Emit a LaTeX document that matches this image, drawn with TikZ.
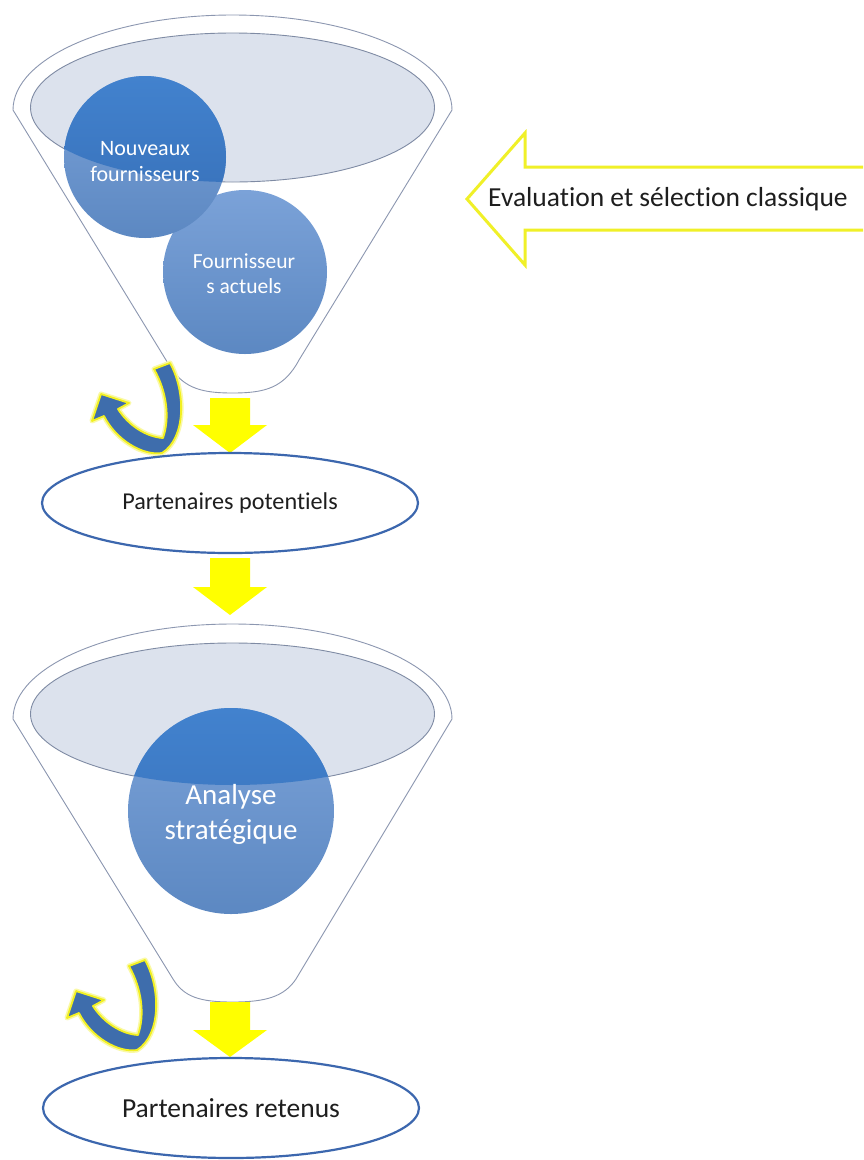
\documentclass[tikz,border=0pt]{standalone}
\usepackage{fontspec}
\setmainfont{Carlito}[Ligatures=NoCommon]
\usetikzlibrary{shapes.geometric}
\definecolor{rimline}{HTML}{8C97B0}
\definecolor{innerfill}{HTML}{DCE2ED}
\definecolor{innerline}{HTML}{7F8BA4}
\definecolor{darkA}{HTML}{4282CE}
\definecolor{darkB}{HTML}{366EB6}
\definecolor{lightA}{HTML}{7BA2D8}
\definecolor{lightB}{HTML}{5C88C2}
\definecolor{arrowblue}{HTML}{3E6DAC}
\definecolor{glow}{HTML}{F2F020}
\definecolor{ellline}{HTML}{3C67AE}
\definecolor{yel}{HTML}{FFFF00}
\definecolor{yelline}{HTML}{F0F028}
\definecolor{txt}{HTML}{1E1E1E}
\tikzset{
  funnelbody/.style={draw=rimline, line width=0.9pt, fill=white},
  innerell/.style={draw=innerline, line width=0.9pt, fill=innerfill},
  lightdisc/.style={top color=lightA, bottom color=lightB},
  darkdisc/.style={top color=darkA, bottom color=darkB},
  downarrow/.style={fill=yel, draw=none},
  backarrow/.style={fill=arrowblue, draw=glow, line width=1.8pt, line join=round},
  backglow/.style={draw=glow!40, line width=5pt, line join=round},
  stage/.style={ellipse, draw=ellline, line width=2.2pt, fill=white, minimum width=376pt, minimum height=100pt, inner sep=0pt, text=txt},
  disctext/.style={text=white, align=center, inner sep=0pt},
  backpath/.style={},
}
\newcommand{\backshape}{(154,369) -- (170,363) .. controls (186,392) and (186,438) .. (162,453)
  .. controls (143,456) and (116,440) .. (104,416) -- (92,421) -- (101,394) -- (129,403) -- (118,409)
  .. controls (128,425) and (146,437) .. (163,438) .. controls (170,418) and (167,392) .. (154,369) -- cycle}
\begin{document}
\begin{tikzpicture}[x=1pt,y=-1pt]
\clip (0,0) rectangle (863,1160);
\fill[white] (0,0) rectangle (863,1160);

% ---------- funnel 1 ----------
\path[funnelbody] (13,110) .. controls (13,57.5) and (111.3,15) .. (232.5,15)
  .. controls (353.7,15) and (452,57.5) .. (452,110) -- (299,360)
  .. controls (284,388) and (265,393) .. (232.5,393)
  .. controls (200,393) and (181,388) .. (166,360) -- cycle;
\path[innerell] (232.5,107.5) ellipse [x radius=202, y radius=74.5];
% circle 2 (Fournisseurs actuels)
\path[lightdisc] (245,272) circle [radius=82];
% circle 1 (Nouveaux fournisseurs)
\path[lightdisc] (145,157) circle [radius=81];
\begin{scope}
  \clip (232.5,107.5) ellipse [x radius=202, y radius=74.5];
  \path[darkdisc] (145,157) circle [radius=81];
\end{scope}
\node[disctext, font=\fontsize{22}{26}\selectfont] (nf) at (145,162) {Nouveaux\\fournisseurs};
\node[disctext, font=\fontsize{21.5}{25}\selectfont] (fa) at (244,274) {Fournisseur\\s actuels};

% ---------- big left arrow ----------
\draw[draw=yelline, line width=3pt, fill=white, line join=miter]
  (875,167) -- (525,167) -- (525,133) -- (467,199) -- (525,265) -- (525,230) -- (875,230);
\node[text=txt, font=\fontsize{27.5}{31}\selectfont, inner sep=0pt] (eval) at (668,199) {Evaluation et sélection classique};

% ---------- yellow arrow 1 ----------
\path[downarrow] (210,398) -- (250,398) -- (250,425) -- (267,425) -- (230,453) -- (193,425) -- (210,425) -- cycle;

% ---------- blue back arrow 1 ----------
\path[backglow] \backshape;
\path[backarrow] \backshape;

% ---------- stage 1 ----------
\node[stage, font=\fontsize{24.2}{28}\selectfont] (pp) at (230,503) {Partenaires potentiels};

% ---------- yellow arrow 2 ----------
\path[downarrow] (210,558) -- (250,558) -- (250,587) -- (267,587) -- (230,615) -- (193,587) -- (210,587) -- cycle;

% ---------- funnel 2 ----------
\begin{scope}[yshift=-609pt]
\path[funnelbody] (13,110) .. controls (13,57.5) and (111.3,15) .. (232.5,15)
  .. controls (353.7,15) and (452,57.5) .. (452,110) -- (296,370)
  .. controls (284,388) and (265,393) .. (232.5,393)
  .. controls (200,393) and (184,388) .. (173,370) -- cycle;
\end{scope}
\path[innerell] (232.5,714) ellipse [x radius=202, y radius=71];
\path[lightdisc] (231,811) circle [radius=103];
\begin{scope}
  \clip (232.5,714) ellipse [x radius=202, y radius=71];
  \path[darkdisc] (231,811) circle [radius=103];
\end{scope}
\node[disctext, font=\fontsize{29}{35}\selectfont] (as) at (231,814) {Analyse\\stratégique};

% ---------- yellow arrow 3 ----------
\path[downarrow] (210,1002) -- (250,1002) -- (250,1030) -- (267,1030) -- (230,1057) -- (193,1030) -- (210,1030) -- cycle;

% ---------- blue back arrow 2 ----------
\begin{scope}[xshift=-25pt, yshift=-597pt]
\path[backglow] \backshape;
\path[backarrow] \backshape;
\end{scope}

% ---------- stage 2 ----------
\node[stage, font=\fontsize{27.5}{31}\selectfont] (pr) at (231,1108) {Partenaires retenus};
\end{tikzpicture}
\end{document}
